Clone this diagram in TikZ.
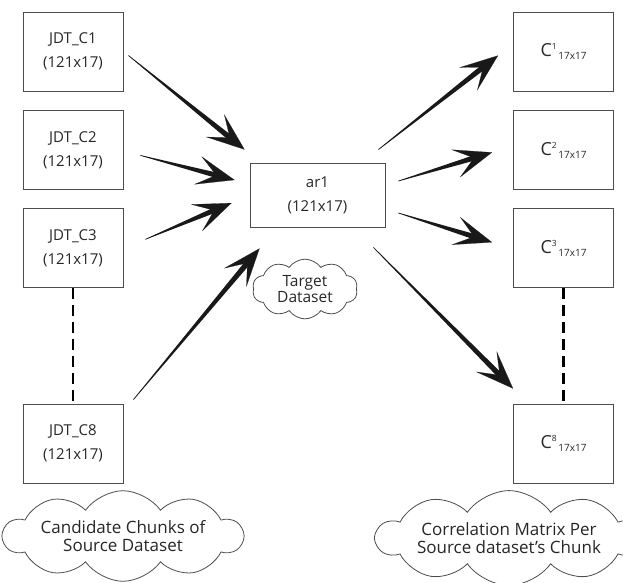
\documentclass[tikz,border=0pt]{standalone}
\usepackage{fontspec}
\setmainfont{Open Sans}
\usetikzlibrary{positioning}
\usetikzlibrary{shapes.symbols}
\usetikzlibrary{arrows.meta}
\usetikzlibrary{calc}

\definecolor{ink}{HTML}{262626}
\newcommand{\cmat}[1]{{\fontsize{18}{18}\selectfont C}\raisebox{7.5pt}{\fontsize{8.5}{9}\selectfont #1}\raisebox{-3pt}{\fontsize{10}{10}\selectfont\,17x17}}
% tapered connector: thin start, wide end, barbed head
\newcommand{\taper}[2]{%
  \fill[black!90] ($(#1)!0.3pt!90:(#2)$) -- ($(#2)!14pt!(#1)!2.8pt!-90:(#1)$)
    -- ($(#2)!14pt!(#1)!2.8pt!90:(#1)$) -- ($(#1)!0.3pt!-90:(#2)$) -- cycle;
  \draw[bighead] (#1) -- (#2);}

\tikzset{
  chunk/.style={draw=black!70, line width=0.9pt, minimum width=100pt, minimum height=79pt,
    align=center, text=ink, font=\fontsize{15}{24}\selectfont},
  target/.style={chunk, minimum width=135pt, minimum height=64pt},
  bighead/.style={draw=black!90, line width=0.2pt, -{Stealth[length=38pt, width=29pt, inset=19pt]}},
  note/.style={cloud, draw=black!70, line width=0.8pt, cloud puffs=10, cloud puff arc=110,
    cloud ignores aspect, align=center, text=ink},
  gap/.style={draw=black, line width=2.4pt, dash pattern=on 11pt off 6pt}
}

\begin{document}
\begin{tikzpicture}[x=1pt, y=-1pt]
  \useasboundingbox (0,0) rectangle (623,582);

  % Define nodes
  \node[chunk] (c1) at (73,51.5) {JDT\_C1\\(121x17)};
  \node[chunk, below=19pt of c1] (c2) {JDT\_C2\\(121x17)};
  \node[chunk, below=18pt of c2] (c3) {JDT\_C3\\(121x17)};
  \node[chunk] (c8) at (73,443.5) {JDT\_C8\\(121x17)};

  \node[target] (ar1) at (317.5,195) {ar1\\(121x17)};

  \node[chunk] (r1) at (563.5,51.5) {\cmat{1}};
  \node[chunk, below=19pt of r1] (r2) {\cmat{2}};
  \node[chunk, below=18pt of r2] (r3) {\cmat{3}};
  \node[chunk] (r8) at (563.5,443.5) {\cmat{8}};

  \node[note, minimum width=105pt, minimum height=52pt, font=\fontsize{15.5}{16}\selectfont]
    (tgt) at (305,289) {Target\\Dataset};
  \node[note, minimum width=232pt, minimum height=88pt, font=\fontsize{17}{18.5}\selectfont]
    (cand) at (123,536) {Candidate Chunks of\\Source Dataset};
  \node[note, minimum width=232pt, minimum height=88pt, font=\fontsize{17}{18.5}\selectfont]
    (corr) at (509,538) {Correlation Matrix Per\\Source dataset's Chunk};

  % Connect nodes
  \draw[gap] (c3) -- (c8);
  \draw[gap] (r3) -- (r8);

  \taper{[xshift=5pt, yshift=-4pt]c1.east}{[xshift=-5pt, yshift=13pt]ar1.north west}
  \taper{[xshift=17pt, yshift=-5pt]c2.east}{[xshift=-15pt, yshift=15pt]ar1.west}
  \taper{[xshift=22pt, yshift=9pt]c3.east}{[xshift=-18pt, yshift=-8pt]ar1.west}
  \taper{[xshift=10pt, yshift=4pt]c8.north east}{[xshift=10pt, yshift=-21pt]ar1.south west}

  \taper{[xshift=-7pt, yshift=13pt]ar1.north east}{[xshift=-15pt, yshift=-4pt]r1.west}
  \taper{[xshift=13pt, yshift=14pt]ar1.east}{[xshift=-21pt, yshift=-2pt]r2.west}
  \taper{[xshift=13pt, yshift=-18pt]ar1.east}{[xshift=-21pt, yshift=6pt]r3.west}
  \taper{[xshift=-12pt, yshift=-20pt]ar1.south east}{[yshift=15pt]r8.north west}

\end{tikzpicture}
\end{document}
